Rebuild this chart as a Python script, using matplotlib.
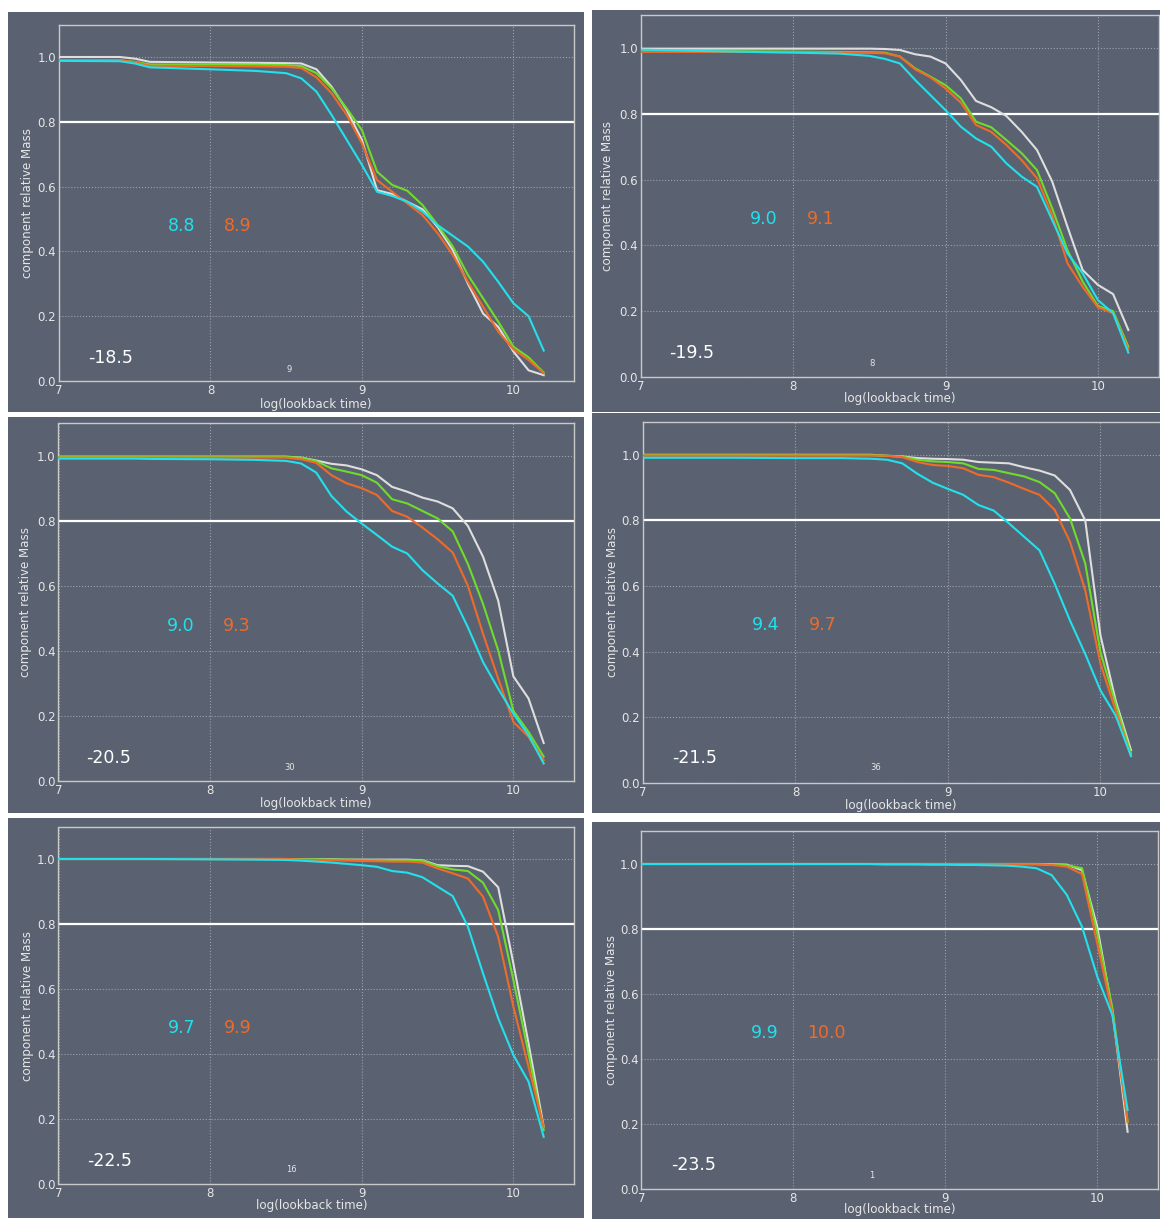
import matplotlib
matplotlib.use("Agg")
import matplotlib.pyplot as plt
from matplotlib.patches import Rectangle

# ---------------- data ----------------
LOGT = [7.0, 7.4, 7.5, 7.6, 8.0, 8.3, 8.5, 8.6, 8.7, 8.8, 8.9, 9.0, 9.1, 9.2,
        9.3, 9.4, 9.5, 9.6, 9.7, 9.8, 9.9, 10.0, 10.1, 10.2]

MAGNITUDES = ["-18.5", "-19.5", "-20.5", "-21.5", "-22.5", "-23.5"]
COUNTS = ["9", "8", "30", "36", "16", "1"]
AGE_CYAN = ["8.8", "9.0", "9.0", "9.4", "9.7", "9.9"]
AGE_ORANGE = ["8.9", "9.1", "9.3", "9.7", "9.9", "10.0"]

M185_WHITE = [1.0, 1.0, 0.995, 0.985, 0.983, 0.982, 0.981,
              0.980, 0.962, 0.908, 0.836, 0.744, 0.589, 0.577, 0.553, 0.530, 0.475,
              0.404, 0.300, 0.208, 0.167, 0.091, 0.033, 0.018]
M185_GREEN = [0.990, 0.990, 0.985, 0.977, 0.976, 0.976, 0.975,
              0.972, 0.950, 0.903, 0.841, 0.774, 0.646, 0.605, 0.587, 0.543, 0.481,
              0.415, 0.327, 0.255, 0.183, 0.106, 0.073, 0.026]
M185_ORANGE = [0.990, 0.990, 0.984, 0.973, 0.972, 0.971, 0.970,
               0.966, 0.937, 0.888, 0.821, 0.733, 0.620, 0.584, 0.548, 0.512, 0.456,
               0.389, 0.306, 0.229, 0.152, 0.098, 0.065, 0.024]
M185_CYAN = [0.988, 0.987, 0.980, 0.968, 0.962, 0.957, 0.950,
             0.934, 0.893, 0.821, 0.744, 0.667, 0.584, 0.571, 0.553, 0.523, 0.481,
             0.448, 0.415, 0.368, 0.306, 0.240, 0.200, 0.094]

M195_WHITE = [0.998, 0.998, 0.998, 0.998, 0.998, 0.998, 0.998,
              0.997, 0.994, 0.981, 0.974, 0.953, 0.903, 0.839, 0.820, 0.793, 0.745,
              0.690, 0.594, 0.457, 0.325, 0.280, 0.252, 0.143]
M195_GREEN = [0.990, 0.990, 0.990, 0.990, 0.989, 0.988, 0.987,
              0.986, 0.974, 0.938, 0.913, 0.887, 0.847, 0.776, 0.759, 0.720, 0.680,
              0.629, 0.513, 0.386, 0.290, 0.216, 0.200, 0.092]
M195_ORANGE = [0.988, 0.988, 0.988, 0.988, 0.987, 0.986, 0.985,
               0.984, 0.974, 0.935, 0.911, 0.877, 0.834, 0.766, 0.745, 0.705, 0.659,
               0.604, 0.492, 0.346, 0.274, 0.212, 0.194, 0.084]
M195_CYAN = [0.995, 0.991, 0.990, 0.989, 0.986, 0.983, 0.976,
             0.967, 0.953, 0.903, 0.857, 0.811, 0.761, 0.725, 0.700, 0.649, 0.609,
             0.578, 0.477, 0.376, 0.315, 0.234, 0.194, 0.074]

M205_WHITE = [0.998, 0.998, 0.998, 0.998, 0.998, 0.998, 0.998,
              0.995, 0.986, 0.976, 0.971, 0.959, 0.941, 0.905, 0.890, 0.872, 0.860,
              0.839, 0.785, 0.690, 0.555, 0.322, 0.254, 0.117]
M205_GREEN = [0.997, 0.997, 0.997, 0.997, 0.997, 0.997, 0.997,
              0.995, 0.984, 0.962, 0.952, 0.941, 0.918, 0.867, 0.854, 0.831, 0.808,
              0.768, 0.668, 0.545, 0.402, 0.216, 0.151, 0.075]
M205_ORANGE = [0.995, 0.995, 0.995, 0.995, 0.995, 0.995, 0.995,
               0.990, 0.979, 0.941, 0.916, 0.901, 0.880, 0.831, 0.813, 0.780, 0.744,
               0.703, 0.601, 0.453, 0.315, 0.182, 0.136, 0.064]
M205_CYAN = [0.992, 0.992, 0.992, 0.991, 0.990, 0.988, 0.985,
             0.977, 0.949, 0.877, 0.829, 0.792, 0.757, 0.721, 0.700, 0.649, 0.608,
             0.570, 0.473, 0.366, 0.284, 0.207, 0.141, 0.054]

M215_WHITE = [1.0, 1.0, 1.0, 1.0, 1.0, 1.0, 1.0,
              0.997, 0.995, 0.990, 0.988, 0.987, 0.985, 0.978, 0.976, 0.974, 0.962,
              0.952, 0.937, 0.893, 0.800, 0.449, 0.250, 0.100]
M215_GREEN = [0.999, 0.999, 0.999, 0.999, 0.999, 0.999, 0.999,
              0.997, 0.995, 0.985, 0.980, 0.978, 0.974, 0.957, 0.954, 0.944, 0.934,
              0.917, 0.883, 0.806, 0.669, 0.398, 0.240, 0.089]
M215_ORANGE = [0.998, 0.998, 0.998, 0.998, 0.998, 0.998, 0.998,
               0.997, 0.993, 0.978, 0.969, 0.966, 0.959, 0.939, 0.932, 0.915, 0.896,
               0.878, 0.832, 0.735, 0.587, 0.363, 0.220, 0.082]
M215_CYAN = [0.991, 0.991, 0.991, 0.991, 0.990, 0.990, 0.988,
             0.985, 0.974, 0.942, 0.915, 0.896, 0.878, 0.847, 0.830, 0.791, 0.750,
             0.709, 0.607, 0.495, 0.393, 0.282, 0.205, 0.082]

M225_WHITE = [1.0, 1.0, 1.0, 1.0, 1.0, 1.0, 1.0,
              0.999, 0.999, 0.999, 0.998, 0.998, 0.998, 0.998, 0.998, 0.996, 0.981,
              0.979, 0.978, 0.961, 0.913, 0.679, 0.433, 0.176]
M225_GREEN = [1.0, 1.0, 1.0, 1.0, 1.0, 1.0, 1.0,
              0.999, 0.999, 0.998, 0.998, 0.997, 0.997, 0.996, 0.996, 0.995, 0.978,
              0.968, 0.963, 0.927, 0.843, 0.628, 0.402, 0.166]
M225_ORANGE = [1.0, 1.0, 1.0, 1.0, 1.0, 1.0, 1.0,
               0.998, 0.997, 0.996, 0.995, 0.994, 0.993, 0.992, 0.992, 0.989, 0.971,
               0.956, 0.940, 0.884, 0.761, 0.546, 0.361, 0.176]
M225_CYAN = [1.0, 1.0, 1.0, 1.0, 0.999, 0.998, 0.997,
             0.995, 0.992, 0.989, 0.985, 0.981, 0.976, 0.963, 0.958, 0.944, 0.915,
             0.886, 0.792, 0.648, 0.510, 0.397, 0.315, 0.145]

M235_WHITE = [1.0, 1.0, 1.0, 1.0, 1.0, 1.0, 1.0,
              1.0, 1.0, 1.0, 1.0, 1.0, 1.0, 1.0, 1.0, 1.0, 1.0,
              1.0, 0.999, 0.998, 0.981, 0.807, 0.546, 0.176]
M235_GREEN = [1.0, 1.0, 1.0, 1.0, 1.0, 1.0, 1.0,
              1.0, 1.0, 1.0, 1.0, 1.0, 1.0, 1.0, 1.0, 1.0, 1.0,
              1.0, 0.998, 0.996, 0.987, 0.787, 0.556, 0.207]
M235_ORANGE = [1.0, 1.0, 1.0, 1.0, 1.0, 1.0, 1.0,
               0.999, 0.999, 0.999, 0.999, 0.999, 0.999, 0.999, 0.999, 0.999, 0.999,
               0.999, 0.997, 0.992, 0.969, 0.756, 0.541, 0.207]
M235_CYAN = [1.0, 1.0, 1.0, 1.0, 1.0, 1.0, 1.0,
             0.999, 0.999, 0.999, 0.998, 0.998, 0.997, 0.997, 0.996, 0.995, 0.992,
             0.987, 0.966, 0.905, 0.807, 0.654, 0.535, 0.243]

SERIES = [
    (M185_WHITE, M185_GREEN, M185_ORANGE, M185_CYAN),
    (M195_WHITE, M195_GREEN, M195_ORANGE, M195_CYAN),
    (M205_WHITE, M205_GREEN, M205_ORANGE, M205_CYAN),
    (M215_WHITE, M215_GREEN, M215_ORANGE, M215_CYAN),
    (M225_WHITE, M225_GREEN, M225_ORANGE, M225_CYAN),
    (M235_WHITE, M235_GREEN, M235_ORANGE, M235_CYAN),
]

X_TICKS = [7, 8, 9, 10]
X_TICK_LABELS = ["7", "8", "9", "10"]
Y_TICKS = [0.0, 0.2, 0.4, 0.6, 0.8, 1.0]
Y_TICK_LABELS = ["0.0", "0.2", "0.4", "0.6", "0.8", "1.0"]

# ---------------- layout (pixels, origin top-left) ----------------
W, H = 1160, 1219
LAYOUT = [
    dict(bg=(8, 12, 584, 412), ax=(59, 24.6, 574, 381),
         ylab=(28, 203), xlab=(316, 404), cyan=(182, 226), orange=(238, 226),
         mag=(111, 358), count=(289, 369)),
    dict(bg=(592, 10, 1160, 412), ax=(641, 15.1, 1158.8, 377),
         ylab=(608, 196), xlab=(900, 399), cyan=(764, 219), orange=(821, 219),
         mag=(692, 353), count=(872, 364)),
    dict(bg=(8, 417, 584, 813), ax=(58.5, 423.5, 574, 781),
         ylab=(26, 602), xlab=(316, 804), cyan=(181, 626), orange=(237, 626),
         mag=(109, 758), count=(290, 768)),
    dict(bg=(592, 413, 1160, 813), ax=(643, 422, 1161.5, 783),
         ylab=(612, 602), xlab=(901, 805), cyan=(766, 625), orange=(823, 625),
         mag=(695, 758), count=(876, 768)),
    dict(bg=(8, 818, 584, 1218), ax=(58.5, 826.5, 574, 1184),
         ylab=(28, 1006), xlab=(312, 1205), cyan=(182, 1028), orange=(238, 1028),
         mag=(110, 1161), count=(291, 1170)),
    dict(bg=(592, 822, 1160, 1219), ax=(641.3, 831.5, 1158, 1189),
         ylab=(611, 1010), xlab=(900, 1210), cyan=(765, 1033), orange=(826, 1033),
         mag=(694, 1165), count=(872, 1175)),
]

BG = "#5a6271"
C_WHITE = "#dedede"
C_GREEN = "#6fdc2a"
C_ORANGE = "#f06a28"
C_CYAN = "#22e0ec"
C_TEXT = "#e6e6e6"
C_SPINE = "#c9c9c9"


def fx(px):
    return px / W


def fy(py):
    return 1 - py / H


fig = plt.figure(figsize=(W / 100, H / 100), dpi=100)
fig.patch.set_facecolor("white")

for i, lay in enumerate(LAYOUT):
    x0, y0, x1, y1 = lay["bg"]
    fig.patches.append(Rectangle((fx(x0), fy(y1)), fx(x1) - fx(x0), fy(y0) - fy(y1),
                                 transform=fig.transFigure, facecolor=BG,
                                 edgecolor="none", zorder=-10))
    l, t, r, b = lay["ax"]
    ax = fig.add_axes([fx(l), fy(b), fx(r) - fx(l), fy(t) - fy(b)])
    ax.set_zorder(1)
    ax.set_facecolor("none")
    ax.set_xlim(7, 10.4)
    ax.set_ylim(0, 1.1)
    ax.set_xticks(X_TICKS)
    ax.set_xticklabels(X_TICK_LABELS)
    ax.set_yticks(Y_TICKS)
    ax.set_yticklabels(Y_TICK_LABELS)
    ax.tick_params(colors=C_TEXT, labelsize=8.5, length=0, pad=2)
    for s in ax.spines.values():
        s.set_color(C_SPINE)
        s.set_linewidth(1.0)
    ax.grid(True, color="#b8bcc4", linestyle=":", linewidth=0.8, alpha=0.7)
    ax.set_axisbelow(True)

    w, g, o, c = SERIES[i]
    ax.axhline(0.8, color="white", linewidth=1.6, zorder=2)
    ax.plot(LOGT, w, color=C_WHITE, linewidth=1.5, zorder=3)
    ax.plot(LOGT, g, color=C_GREEN, linewidth=1.5, zorder=4)
    ax.plot(LOGT, o, color=C_ORANGE, linewidth=1.5, zorder=5)
    ax.plot(LOGT, c, color=C_CYAN, linewidth=1.5, zorder=6)

    fig.text(fx(lay["ylab"][0]), fy(lay["ylab"][1]), "component relative Mass",
             rotation=90, ha="center", va="center", fontsize=8.6, color=C_TEXT)
    fig.text(fx(lay["xlab"][0]), fy(lay["xlab"][1]), "log(lookback time)",
             ha="center", va="center", fontsize=8.6, color=C_TEXT)
    fig.text(fx(lay["cyan"][0]), fy(lay["cyan"][1]), AGE_CYAN[i],
             ha="center", va="center", fontsize=12.5, color=C_CYAN)
    fig.text(fx(lay["orange"][0]), fy(lay["orange"][1]), AGE_ORANGE[i],
             ha="center", va="center", fontsize=12.5, color=C_ORANGE)
    fig.text(fx(lay["mag"][0]), fy(lay["mag"][1]), MAGNITUDES[i],
             ha="center", va="center", fontsize=12.5, color="white")
    fig.text(fx(lay["count"][0]), fy(lay["count"][1]), COUNTS[i],
             ha="center", va="center", fontsize=6, color=C_TEXT)

fig.savefig("out.png", dpi=100, facecolor="white")
